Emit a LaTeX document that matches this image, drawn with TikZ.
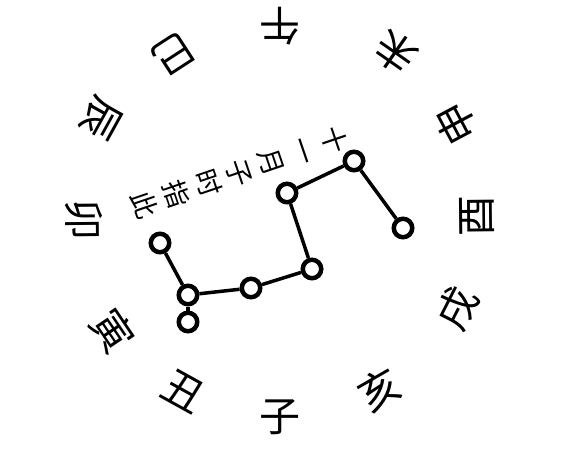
\documentclass[tikz,border=0pt]{standalone}
\usepackage{fontspec}
\newfontfamily\cjk{Noto Sans CJK SC}
\begin{document}
\begin{tikzpicture}
        [x=1pt,y=1pt,
        stardecorate/.style={shape=circle,minimum size=18.5pt,inner sep=0pt,draw,line width=4.5pt},%
        linedecorate/.style={-,line width=3.5pt},%
        branchdecorate/.style={inner sep=0pt,font=\cjk\fontsize{41}{41}\selectfont},%
        notedecorate/.style={inner sep=0pt,align=center,font=\cjk\fontsize{27}{33.5}\selectfont}]
        \useasboundingbox (0,0) rectangle (575,-462);
        \coordinate (centre) at (280,-218);
        %% earthly branches round the circle
        \foreach \branch/\ang/\rad [count=\i] in {子/270/199, 丑/241/198, 寅/214/202, 卯/180.6/196,
          辰/151/205, 巳/123/195, 午/90/192, 未/55/202, 申/28/200, 酉/0.6/197, 戌/-27/199, 亥/-60/198}
        {
          \node (branch\i) at ([shift={(\ang:\rad)}]centre) [branchdecorate,rotate=\ang+90] {\branch};
        }
        %% stars of the dipper
        \foreach \nodename/\x/\y in {tianshu/403/-228, tianxuan/354/-161, tianji/287/-193,
          tianquan/312/-269, yuheng/251/-288, kaiyang/188/-295, yaoguang/160/-243, fu/188/-322}
        {
          \node (\nodename) at (\x,\y) [stardecorate] {};
        }
        %% lines between the stars
        \path
        \foreach \startnode/\endnode in {tianshu/tianxuan, tianxuan/tianji, tianji/tianquan,
          tianquan/yuheng, yuheng/kaiyang, kaiyang/yaoguang, kaiyang/fu}
        {
          (\startnode) edge[linedecorate] (\endnode)
        };
        %% note along the handle
        \node (note) at (240,-172.5) [notedecorate,rotate=-71.2] {十\\一\\月\\子\\时\\指\\此};
      \end{tikzpicture}
\end{document}
